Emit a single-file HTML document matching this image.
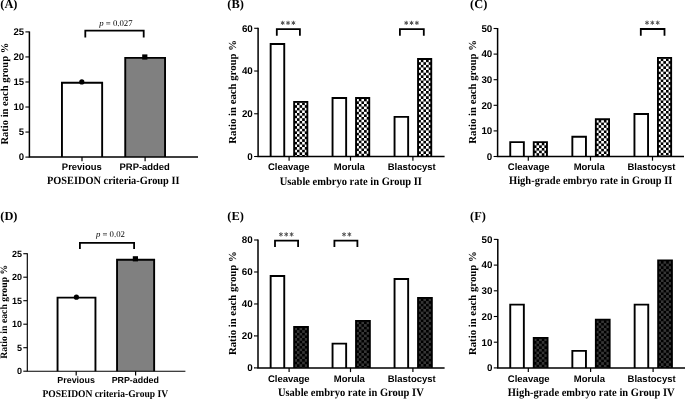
<!DOCTYPE html>
<html><head><meta charset="utf-8"><title>Figure</title>
<style>
html,body{margin:0;padding:0;background:#fff;}
body{width:685px;height:399px;overflow:hidden;}
svg{display:block;filter:grayscale(1);}
text{fill:#000;text-rendering:geometricPrecision;}
</style></head><body>
<svg width="685" height="399" viewBox="0 0 685 399">
<defs>
<pattern id="chkL" width="5.24" height="5.24" patternUnits="userSpaceOnUse">
<rect width="5.24" height="5.24" fill="#000"/><rect width="2.62" height="2.62" fill="#fff"/><rect x="2.62" y="2.62" width="2.62" height="2.62" fill="#fff"/>
</pattern>
<pattern id="chkD" width="5.24" height="5.24" patternUnits="userSpaceOnUse">
<rect width="5.24" height="5.24" fill="#000"/><rect width="2.62" height="2.62" fill="#363636"/><rect x="2.62" y="2.62" width="2.62" height="2.62" fill="#363636"/>
</pattern>
</defs>
<rect width="685" height="399" fill="#fff"/>
<g>
<text x="0.3" y="8.1" font-family='"Liberation Serif", serif' font-weight="bold" font-size="12.4">(A)</text>
<path d="M61.95 157.10V82.68H102.15V157.10" fill="#fff" stroke="#000" stroke-width="1.9"/>
<path d="M125.25 157.10V57.89H165.05V157.10" fill="#808080" stroke="#000" stroke-width="1.9"/>
<path d="M29.4 31.4V157.1H198" fill="none" stroke="#000" stroke-width="1.5"/>
<path d="M25.4 157.10H29.4" stroke="#000" stroke-width="1.1"/>
<text transform="translate(24.2 160.35) scale(1.0 1)" text-anchor="end" font-family='"Liberation Sans", sans-serif' font-weight="bold" font-size="9.60">0</text>
<path d="M25.4 132.06H29.4" stroke="#000" stroke-width="1.1"/>
<text transform="translate(24.2 135.31) scale(1.0 1)" text-anchor="end" font-family='"Liberation Sans", sans-serif' font-weight="bold" font-size="9.60">5</text>
<path d="M25.4 107.02H29.4" stroke="#000" stroke-width="1.1"/>
<text transform="translate(24.2 110.27) scale(1.0 1)" text-anchor="end" font-family='"Liberation Sans", sans-serif' font-weight="bold" font-size="9.60">10</text>
<path d="M25.4 81.98H29.4" stroke="#000" stroke-width="1.1"/>
<text transform="translate(24.2 85.23) scale(1.0 1)" text-anchor="end" font-family='"Liberation Sans", sans-serif' font-weight="bold" font-size="9.60">15</text>
<path d="M25.4 56.94H29.4" stroke="#000" stroke-width="1.1"/>
<text transform="translate(24.2 60.19) scale(1.0 1)" text-anchor="end" font-family='"Liberation Sans", sans-serif' font-weight="bold" font-size="9.60">20</text>
<path d="M25.4 31.90H29.4" stroke="#000" stroke-width="1.1"/>
<text transform="translate(24.2 35.15) scale(1.0 1)" text-anchor="end" font-family='"Liberation Sans", sans-serif' font-weight="bold" font-size="9.60">25</text>
<path d="M82 157.1V161.29999999999998" stroke="#000" stroke-width="1.2"/>
<text x="81.8" y="170.4" text-anchor="middle" font-family='"Liberation Sans", sans-serif' font-weight="bold" font-size="9.45">Previous</text>
<path d="M145.1 157.1V161.29999999999998" stroke="#000" stroke-width="1.2"/>
<text x="144.7" y="170.4" text-anchor="middle" font-family='"Liberation Sans", sans-serif' font-weight="bold" font-size="9.45">PRP-added</text>
<text transform="translate(113.2 184.2) scale(0.93 1)" text-anchor="middle" font-family='"Liberation Serif", serif' font-weight="bold" font-size="11.13">POSEIDON criteria-Group II</text>
<text transform="translate(8.2 93.7) rotate(-90)" text-anchor="middle" font-family='"Liberation Serif", serif' font-weight="bold" font-size="10.55" fill="#1c1c1c">Ratio in each group %</text>
<path d="M85.30 37.4V30.70H143.70V37.4" fill="none" stroke="#000" stroke-width="1.8"/>
<text x="115.9" y="26.0" text-anchor="middle" font-family='"Liberation Serif", serif' font-size="8.75" fill="#444"><tspan font-style="italic">p</tspan> = 0.027</text>
<circle cx="81.8" cy="81.9" r="2.6" fill="#000"/>
<rect x="142.20000000000002" y="54.4" width="5.2" height="5.2" fill="#000"/>
</g>
<g>
<text x="227.3" y="8.1" font-family='"Liberation Serif", serif' font-weight="bold" font-size="12.4">(B)</text>
<path d="M270.65 156.50V43.99H284.25V156.50" fill="#fff" stroke="#000" stroke-width="1.9"/>
<g transform="translate(294.30 102.55)"><path d="M-0.15 53.95V-0.65H13.05V53.95" fill="url(#chkL)" stroke="#000" stroke-width="1.9"/></g>
<path d="M332.55 156.50V98.05H346.15V156.50" fill="#fff" stroke="#000" stroke-width="1.9"/>
<g transform="translate(356.20 98.70)"><path d="M-0.15 57.80V-0.65H13.05V57.80" fill="url(#chkL)" stroke="#000" stroke-width="1.9"/></g>
<path d="M394.55 156.50V116.85H408.15V156.50" fill="#fff" stroke="#000" stroke-width="1.9"/>
<g transform="translate(418.20 59.60)"><path d="M-0.15 96.90V-0.65H13.05V96.90" fill="url(#chkL)" stroke="#000" stroke-width="1.9"/></g>
<path d="M258.1 27.8V156.5H444.6" fill="none" stroke="#000" stroke-width="1.5"/>
<path d="M254.10000000000002 156.50H258.1" stroke="#000" stroke-width="1.1"/>
<text transform="translate(252.8 159.81) scale(1.0 1)" text-anchor="end" font-family='"Liberation Sans", sans-serif' font-weight="bold" font-size="9.79">0</text>
<path d="M254.10000000000002 113.77H258.1" stroke="#000" stroke-width="1.1"/>
<text transform="translate(252.8 117.08) scale(1.0 1)" text-anchor="end" font-family='"Liberation Sans", sans-serif' font-weight="bold" font-size="9.79">20</text>
<path d="M254.10000000000002 71.03H258.1" stroke="#000" stroke-width="1.1"/>
<text transform="translate(252.8 74.35) scale(1.0 1)" text-anchor="end" font-family='"Liberation Sans", sans-serif' font-weight="bold" font-size="9.79">40</text>
<path d="M254.10000000000002 28.30H258.1" stroke="#000" stroke-width="1.1"/>
<text transform="translate(252.8 31.62) scale(1.0 1)" text-anchor="end" font-family='"Liberation Sans", sans-serif' font-weight="bold" font-size="9.79">60</text>
<path d="M289.09999999999997 156.5V160.7" stroke="#000" stroke-width="1.2"/>
<text x="288.8" y="170.1" text-anchor="middle" font-family='"Liberation Sans", sans-serif' font-weight="bold" font-size="9.50">Cleavage</text>
<path d="M350.5 156.5V160.7" stroke="#000" stroke-width="1.2"/>
<text x="349.3" y="170.1" text-anchor="middle" font-family='"Liberation Sans", sans-serif' font-weight="bold" font-size="9.50">Morula</text>
<path d="M412.90000000000003 156.5V160.7" stroke="#000" stroke-width="1.2"/>
<text x="411.7" y="170.1" text-anchor="middle" font-family='"Liberation Sans", sans-serif' font-weight="bold" font-size="9.50">Blastocyst</text>
<text transform="translate(350.8 184.5) scale(0.93 1)" text-anchor="middle" font-family='"Liberation Serif", serif' font-weight="bold" font-size="11.29">Usable embryo rate in Group II</text>
<text transform="translate(236.4 91.9) rotate(-90)" text-anchor="middle" font-family='"Liberation Serif", serif' font-weight="bold" font-size="10.76" fill="#1c1c1c">Ratio in each group %</text>
<path d="M276.80 35.7V29.20H299.90V35.7" fill="none" stroke="#000" stroke-width="1.8"/>
<path d="M282.70 20.80L282.70 25.00M280.88 21.85L284.52 23.95M284.52 21.85L280.88 23.95" stroke="#505050" stroke-width="1.0" fill="none"/>
<path d="M288.05 20.80L288.05 25.00M286.23 21.85L289.87 23.95M289.87 21.85L286.23 23.95" stroke="#505050" stroke-width="1.0" fill="none"/>
<path d="M293.40 20.80L293.40 25.00M291.58 21.85L295.22 23.95M295.22 21.85L291.58 23.95" stroke="#505050" stroke-width="1.0" fill="none"/>
<path d="M399.90 35.7V29.20H423.80V35.7" fill="none" stroke="#000" stroke-width="1.8"/>
<path d="M406.20 20.80L406.20 25.00M404.38 21.85L408.02 23.95M408.02 21.85L404.38 23.95" stroke="#505050" stroke-width="1.0" fill="none"/>
<path d="M411.55 20.80L411.55 25.00M409.73 21.85L413.37 23.95M413.37 21.85L409.73 23.95" stroke="#505050" stroke-width="1.0" fill="none"/>
<path d="M416.90 20.80L416.90 25.00M415.08 21.85L418.72 23.95M418.72 21.85L415.08 23.95" stroke="#505050" stroke-width="1.0" fill="none"/>
</g>
<g>
<text x="470.1" y="8.1" font-family='"Liberation Serif", serif' font-weight="bold" font-size="12.4">(C)</text>
<path d="M510.25 156.50V142.09H523.85V156.50" fill="#fff" stroke="#000" stroke-width="1.9"/>
<g transform="translate(533.90 142.74)"><path d="M-0.15 13.76V-0.65H13.05V13.76" fill="url(#chkL)" stroke="#000" stroke-width="1.9"/></g>
<path d="M572.35 156.50V136.71H585.95V156.50" fill="#fff" stroke="#000" stroke-width="1.9"/>
<g transform="translate(596.00 119.96)"><path d="M-0.15 36.54V-0.65H13.05V36.54" fill="url(#chkL)" stroke="#000" stroke-width="1.9"/></g>
<path d="M634.45 156.50V113.93H648.05V156.50" fill="#fff" stroke="#000" stroke-width="1.9"/>
<g transform="translate(658.10 58.52)"><path d="M-0.15 97.98V-0.65H13.05V97.98" fill="url(#chkL)" stroke="#000" stroke-width="1.9"/></g>
<path d="M497.6 28.0V156.5H684" fill="none" stroke="#000" stroke-width="1.5"/>
<path d="M493.6 156.50H497.6" stroke="#000" stroke-width="1.1"/>
<text transform="translate(492.3 159.81) scale(1.0 1)" text-anchor="end" font-family='"Liberation Sans", sans-serif' font-weight="bold" font-size="9.79">0</text>
<path d="M493.6 130.90H497.6" stroke="#000" stroke-width="1.1"/>
<text transform="translate(492.3 134.22) scale(1.0 1)" text-anchor="end" font-family='"Liberation Sans", sans-serif' font-weight="bold" font-size="9.79">10</text>
<path d="M493.6 105.30H497.6" stroke="#000" stroke-width="1.1"/>
<text transform="translate(492.3 108.61) scale(1.0 1)" text-anchor="end" font-family='"Liberation Sans", sans-serif' font-weight="bold" font-size="9.79">20</text>
<path d="M493.6 79.70H497.6" stroke="#000" stroke-width="1.1"/>
<text transform="translate(492.3 83.02) scale(1.0 1)" text-anchor="end" font-family='"Liberation Sans", sans-serif' font-weight="bold" font-size="9.79">30</text>
<path d="M493.6 54.10H497.6" stroke="#000" stroke-width="1.1"/>
<text transform="translate(492.3 57.41) scale(1.0 1)" text-anchor="end" font-family='"Liberation Sans", sans-serif' font-weight="bold" font-size="9.79">40</text>
<path d="M493.6 28.50H497.6" stroke="#000" stroke-width="1.1"/>
<text transform="translate(492.3 31.82) scale(1.0 1)" text-anchor="end" font-family='"Liberation Sans", sans-serif' font-weight="bold" font-size="9.79">50</text>
<path d="M528.3 156.5V160.7" stroke="#000" stroke-width="1.2"/>
<text x="528.7" y="170.1" text-anchor="middle" font-family='"Liberation Sans", sans-serif' font-weight="bold" font-size="9.50">Cleavage</text>
<path d="M590.5 156.5V160.7" stroke="#000" stroke-width="1.2"/>
<text x="589.2" y="170.1" text-anchor="middle" font-family='"Liberation Sans", sans-serif' font-weight="bold" font-size="9.50">Morula</text>
<path d="M652.5 156.5V160.7" stroke="#000" stroke-width="1.2"/>
<text x="651.5" y="170.1" text-anchor="middle" font-family='"Liberation Sans", sans-serif' font-weight="bold" font-size="9.50">Blastocyst</text>
<text transform="translate(590.7 184.4) scale(0.93 1)" text-anchor="middle" font-family='"Liberation Serif", serif' font-weight="bold" font-size="11.29">High-grade embryo rate in Group II</text>
<text transform="translate(476.4 91.9) rotate(-90)" text-anchor="middle" font-family='"Liberation Serif", serif' font-weight="bold" font-size="10.76" fill="#1c1c1c">Ratio in each group %</text>
<path d="M640.80 35.7V29.00H664.50V35.7" fill="none" stroke="#000" stroke-width="1.8"/>
<path d="M647.00 20.60L647.00 24.80M645.18 21.65L648.82 23.75M648.82 21.65L645.18 23.75" stroke="#505050" stroke-width="1.0" fill="none"/>
<path d="M652.35 20.60L652.35 24.80M650.53 21.65L654.17 23.75M654.17 21.65L650.53 23.75" stroke="#505050" stroke-width="1.0" fill="none"/>
<path d="M657.70 20.60L657.70 24.80M655.88 21.65L659.52 23.75M659.52 21.65L655.88 23.75" stroke="#505050" stroke-width="1.0" fill="none"/>
</g>
<g>
<text x="0.3" y="219.8" font-family='"Liberation Serif", serif' font-weight="bold" font-size="12.4">(D)</text>
<path d="M57.55 371.20V297.65H95.45V371.20" fill="#fff" stroke="#000" stroke-width="1.9"/>
<path d="M117.05 371.20V259.82H154.15V371.20" fill="#808080" stroke="#000" stroke-width="1.9"/>
<path d="M27.3 253.2V371.2H185.4" fill="none" stroke="#000" stroke-width="1.15"/>
<path d="M23.3 371.20H27.3" stroke="#000" stroke-width="1.1"/>
<text transform="translate(22.1 374.25) scale(1.0 1)" text-anchor="end" font-family='"Liberation Sans", sans-serif' font-weight="bold" font-size="9.02">0</text>
<path d="M23.3 347.70H27.3" stroke="#000" stroke-width="1.1"/>
<text transform="translate(22.1 350.75) scale(1.0 1)" text-anchor="end" font-family='"Liberation Sans", sans-serif' font-weight="bold" font-size="9.02">5</text>
<path d="M23.3 324.20H27.3" stroke="#000" stroke-width="1.1"/>
<text transform="translate(22.1 327.25) scale(1.0 1)" text-anchor="end" font-family='"Liberation Sans", sans-serif' font-weight="bold" font-size="9.02">10</text>
<path d="M23.3 300.70H27.3" stroke="#000" stroke-width="1.1"/>
<text transform="translate(22.1 303.75) scale(1.0 1)" text-anchor="end" font-family='"Liberation Sans", sans-serif' font-weight="bold" font-size="9.02">15</text>
<path d="M23.3 277.20H27.3" stroke="#000" stroke-width="1.1"/>
<text transform="translate(22.1 280.25) scale(1.0 1)" text-anchor="end" font-family='"Liberation Sans", sans-serif' font-weight="bold" font-size="9.02">20</text>
<path d="M23.3 253.70H27.3" stroke="#000" stroke-width="1.1"/>
<text transform="translate(22.1 256.75) scale(1.0 1)" text-anchor="end" font-family='"Liberation Sans", sans-serif' font-weight="bold" font-size="9.02">25</text>
<path d="M76.2 371.2V375.4" stroke="#000" stroke-width="1.2"/>
<text x="76.1" y="383.4" text-anchor="middle" font-family='"Liberation Sans", sans-serif' font-weight="bold" font-size="8.88">Previous</text>
<path d="M135.6 371.2V375.4" stroke="#000" stroke-width="1.2"/>
<text x="135.3" y="383.4" text-anchor="middle" font-family='"Liberation Sans", sans-serif' font-weight="bold" font-size="8.88">PRP-added</text>
<text transform="translate(105.3 396.5) scale(0.93 1)" text-anchor="middle" font-family='"Liberation Serif", serif' font-weight="bold" font-size="10.27">POSEIDON criteria-Group IV</text>
<text transform="translate(7.4 311.8) rotate(-90)" text-anchor="middle" font-family='"Liberation Serif", serif' font-weight="bold" font-size="9.75" fill="#1c1c1c">Ratio in each group %</text>
<path d="M79.90 249.1V242.90H134.10V249.1" fill="none" stroke="#000" stroke-width="1.8"/>
<text x="110.4" y="237" text-anchor="middle" font-family='"Liberation Serif", serif' font-size="8.75" fill="#444"><tspan font-style="italic">p</tspan> = 0.02</text>
<circle cx="76.4" cy="297.2" r="2.6" fill="#000"/>
<rect x="132.8" y="256.2" width="5.2" height="5.2" fill="#000"/>
</g>
<g>
<text x="227.3" y="219.8" font-family='"Liberation Serif", serif' font-weight="bold" font-size="12.4">(E)</text>
<path d="M270.65 367.90V275.96H284.25V367.90" fill="#fff" stroke="#000" stroke-width="1.9"/>
<g transform="translate(294.30 327.61)"><path d="M-0.15 40.29V-0.65H13.65V40.29" fill="url(#chkD)" stroke="#000" stroke-width="1.9"/></g>
<path d="M332.55 367.90V343.59H346.15V367.90" fill="#fff" stroke="#000" stroke-width="1.9"/>
<g transform="translate(356.20 321.54)"><path d="M-0.15 46.36V-0.65H13.65V46.36" fill="url(#chkD)" stroke="#000" stroke-width="1.9"/></g>
<path d="M394.55 367.90V279.00H408.15V367.90" fill="#fff" stroke="#000" stroke-width="1.9"/>
<g transform="translate(418.20 298.52)"><path d="M-0.15 69.38V-0.65H13.65V69.38" fill="url(#chkD)" stroke="#000" stroke-width="1.9"/></g>
<path d="M258.0 239.5V367.9H444.6" fill="none" stroke="#000" stroke-width="1.5"/>
<path d="M254.0 367.90H258.0" stroke="#000" stroke-width="1.1"/>
<text transform="translate(252.7 371.21) scale(1.0 1)" text-anchor="end" font-family='"Liberation Sans", sans-serif' font-weight="bold" font-size="9.79">0</text>
<path d="M254.0 335.92H258.0" stroke="#000" stroke-width="1.1"/>
<text transform="translate(252.7 339.24) scale(1.0 1)" text-anchor="end" font-family='"Liberation Sans", sans-serif' font-weight="bold" font-size="9.79">20</text>
<path d="M254.0 303.95H258.0" stroke="#000" stroke-width="1.1"/>
<text transform="translate(252.7 307.26) scale(1.0 1)" text-anchor="end" font-family='"Liberation Sans", sans-serif' font-weight="bold" font-size="9.79">40</text>
<path d="M254.0 271.98H258.0" stroke="#000" stroke-width="1.1"/>
<text transform="translate(252.7 275.29) scale(1.0 1)" text-anchor="end" font-family='"Liberation Sans", sans-serif' font-weight="bold" font-size="9.79">60</text>
<path d="M254.0 240.00H258.0" stroke="#000" stroke-width="1.1"/>
<text transform="translate(252.7 243.31) scale(1.0 1)" text-anchor="end" font-family='"Liberation Sans", sans-serif' font-weight="bold" font-size="9.79">80</text>
<path d="M289.09999999999997 367.9V372.09999999999997" stroke="#000" stroke-width="1.2"/>
<text x="288.8" y="381.7" text-anchor="middle" font-family='"Liberation Sans", sans-serif' font-weight="bold" font-size="9.50">Cleavage</text>
<path d="M350.5 367.9V372.09999999999997" stroke="#000" stroke-width="1.2"/>
<text x="349.3" y="381.7" text-anchor="middle" font-family='"Liberation Sans", sans-serif' font-weight="bold" font-size="9.50">Morula</text>
<path d="M412.90000000000003 367.9V372.09999999999997" stroke="#000" stroke-width="1.2"/>
<text x="411.7" y="381.7" text-anchor="middle" font-family='"Liberation Sans", sans-serif' font-weight="bold" font-size="9.50">Blastocyst</text>
<text transform="translate(350.8 395.6) scale(0.93 1)" text-anchor="middle" font-family='"Liberation Serif", serif' font-weight="bold" font-size="11.29">Usable embryo rate in Group IV</text>
<text transform="translate(236.4 303.2) rotate(-90)" text-anchor="middle" font-family='"Liberation Serif", serif' font-weight="bold" font-size="10.76" fill="#1c1c1c">Ratio in each group %</text>
<path d="M275.00 247V240.70H298.10V247" fill="none" stroke="#000" stroke-width="1.8"/>
<path d="M280.90 232.30L280.90 236.50M279.08 233.35L282.72 235.45M282.72 233.35L279.08 235.45" stroke="#505050" stroke-width="1.0" fill="none"/>
<path d="M286.25 232.30L286.25 236.50M284.43 233.35L288.07 235.45M288.07 233.35L284.43 235.45" stroke="#505050" stroke-width="1.0" fill="none"/>
<path d="M291.60 232.30L291.60 236.50M289.78 233.35L293.42 235.45M293.42 233.35L289.78 235.45" stroke="#505050" stroke-width="1.0" fill="none"/>
<path d="M334.40 247V240.70H357.40V247" fill="none" stroke="#000" stroke-width="1.8"/>
<path d="M344.02 232.30L344.02 236.50M342.21 233.35L345.84 235.45M345.84 233.35L342.21 235.45" stroke="#505050" stroke-width="1.0" fill="none"/>
<path d="M349.38 232.30L349.38 236.50M347.56 233.35L351.19 235.45M351.19 233.35L347.56 235.45" stroke="#505050" stroke-width="1.0" fill="none"/>
</g>
<g>
<text x="470.1" y="219.8" font-family='"Liberation Serif", serif' font-weight="bold" font-size="12.4">(F)</text>
<path d="M510.25 367.90V304.60H523.85V367.90" fill="#fff" stroke="#000" stroke-width="1.9"/>
<g transform="translate(533.90 338.48)"><path d="M-0.15 29.42V-0.65H13.65V29.42" fill="url(#chkD)" stroke="#000" stroke-width="1.9"/></g>
<path d="M572.35 367.90V350.86H585.95V367.90" fill="#fff" stroke="#000" stroke-width="1.9"/>
<g transform="translate(596.00 320.28)"><path d="M-0.15 47.62V-0.65H13.65V47.62" fill="url(#chkD)" stroke="#000" stroke-width="1.9"/></g>
<path d="M634.65 367.90V304.60H648.25V367.90" fill="#fff" stroke="#000" stroke-width="1.9"/>
<g transform="translate(658.30 261.05)"><path d="M-0.15 106.85V-0.65H13.65V106.85" fill="url(#chkD)" stroke="#000" stroke-width="1.9"/></g>
<path d="M497.8 238.9V367.9H685" fill="none" stroke="#000" stroke-width="1.5"/>
<path d="M493.8 367.90H497.8" stroke="#000" stroke-width="1.1"/>
<text transform="translate(492.5 371.21) scale(1.0 1)" text-anchor="end" font-family='"Liberation Sans", sans-serif' font-weight="bold" font-size="9.79">0</text>
<path d="M493.8 342.20H497.8" stroke="#000" stroke-width="1.1"/>
<text transform="translate(492.5 345.51) scale(1.0 1)" text-anchor="end" font-family='"Liberation Sans", sans-serif' font-weight="bold" font-size="9.79">10</text>
<path d="M493.8 316.50H497.8" stroke="#000" stroke-width="1.1"/>
<text transform="translate(492.5 319.81) scale(1.0 1)" text-anchor="end" font-family='"Liberation Sans", sans-serif' font-weight="bold" font-size="9.79">20</text>
<path d="M493.8 290.80H497.8" stroke="#000" stroke-width="1.1"/>
<text transform="translate(492.5 294.12) scale(1.0 1)" text-anchor="end" font-family='"Liberation Sans", sans-serif' font-weight="bold" font-size="9.79">30</text>
<path d="M493.8 265.10H497.8" stroke="#000" stroke-width="1.1"/>
<text transform="translate(492.5 268.42) scale(1.0 1)" text-anchor="end" font-family='"Liberation Sans", sans-serif' font-weight="bold" font-size="9.79">40</text>
<path d="M493.8 239.40H497.8" stroke="#000" stroke-width="1.1"/>
<text transform="translate(492.5 242.72) scale(1.0 1)" text-anchor="end" font-family='"Liberation Sans", sans-serif' font-weight="bold" font-size="9.79">50</text>
<path d="M528.3 367.9V372.09999999999997" stroke="#000" stroke-width="1.2"/>
<text x="528.7" y="381.7" text-anchor="middle" font-family='"Liberation Sans", sans-serif' font-weight="bold" font-size="9.50">Cleavage</text>
<path d="M590.6 367.9V372.09999999999997" stroke="#000" stroke-width="1.2"/>
<text x="589.4" y="381.7" text-anchor="middle" font-family='"Liberation Sans", sans-serif' font-weight="bold" font-size="9.50">Morula</text>
<path d="M653.1 367.9V372.09999999999997" stroke="#000" stroke-width="1.2"/>
<text x="651.6" y="381.7" text-anchor="middle" font-family='"Liberation Sans", sans-serif' font-weight="bold" font-size="9.50">Blastocyst</text>
<text transform="translate(591.2 395.6) scale(0.93 1)" text-anchor="middle" font-family='"Liberation Serif", serif' font-weight="bold" font-size="11.29">High-grade embryo rate in Group IV</text>
<text transform="translate(476.4 303.2) rotate(-90)" text-anchor="middle" font-family='"Liberation Serif", serif' font-weight="bold" font-size="10.76" fill="#1c1c1c">Ratio in each group %</text>
</g>
</svg></body></html>
